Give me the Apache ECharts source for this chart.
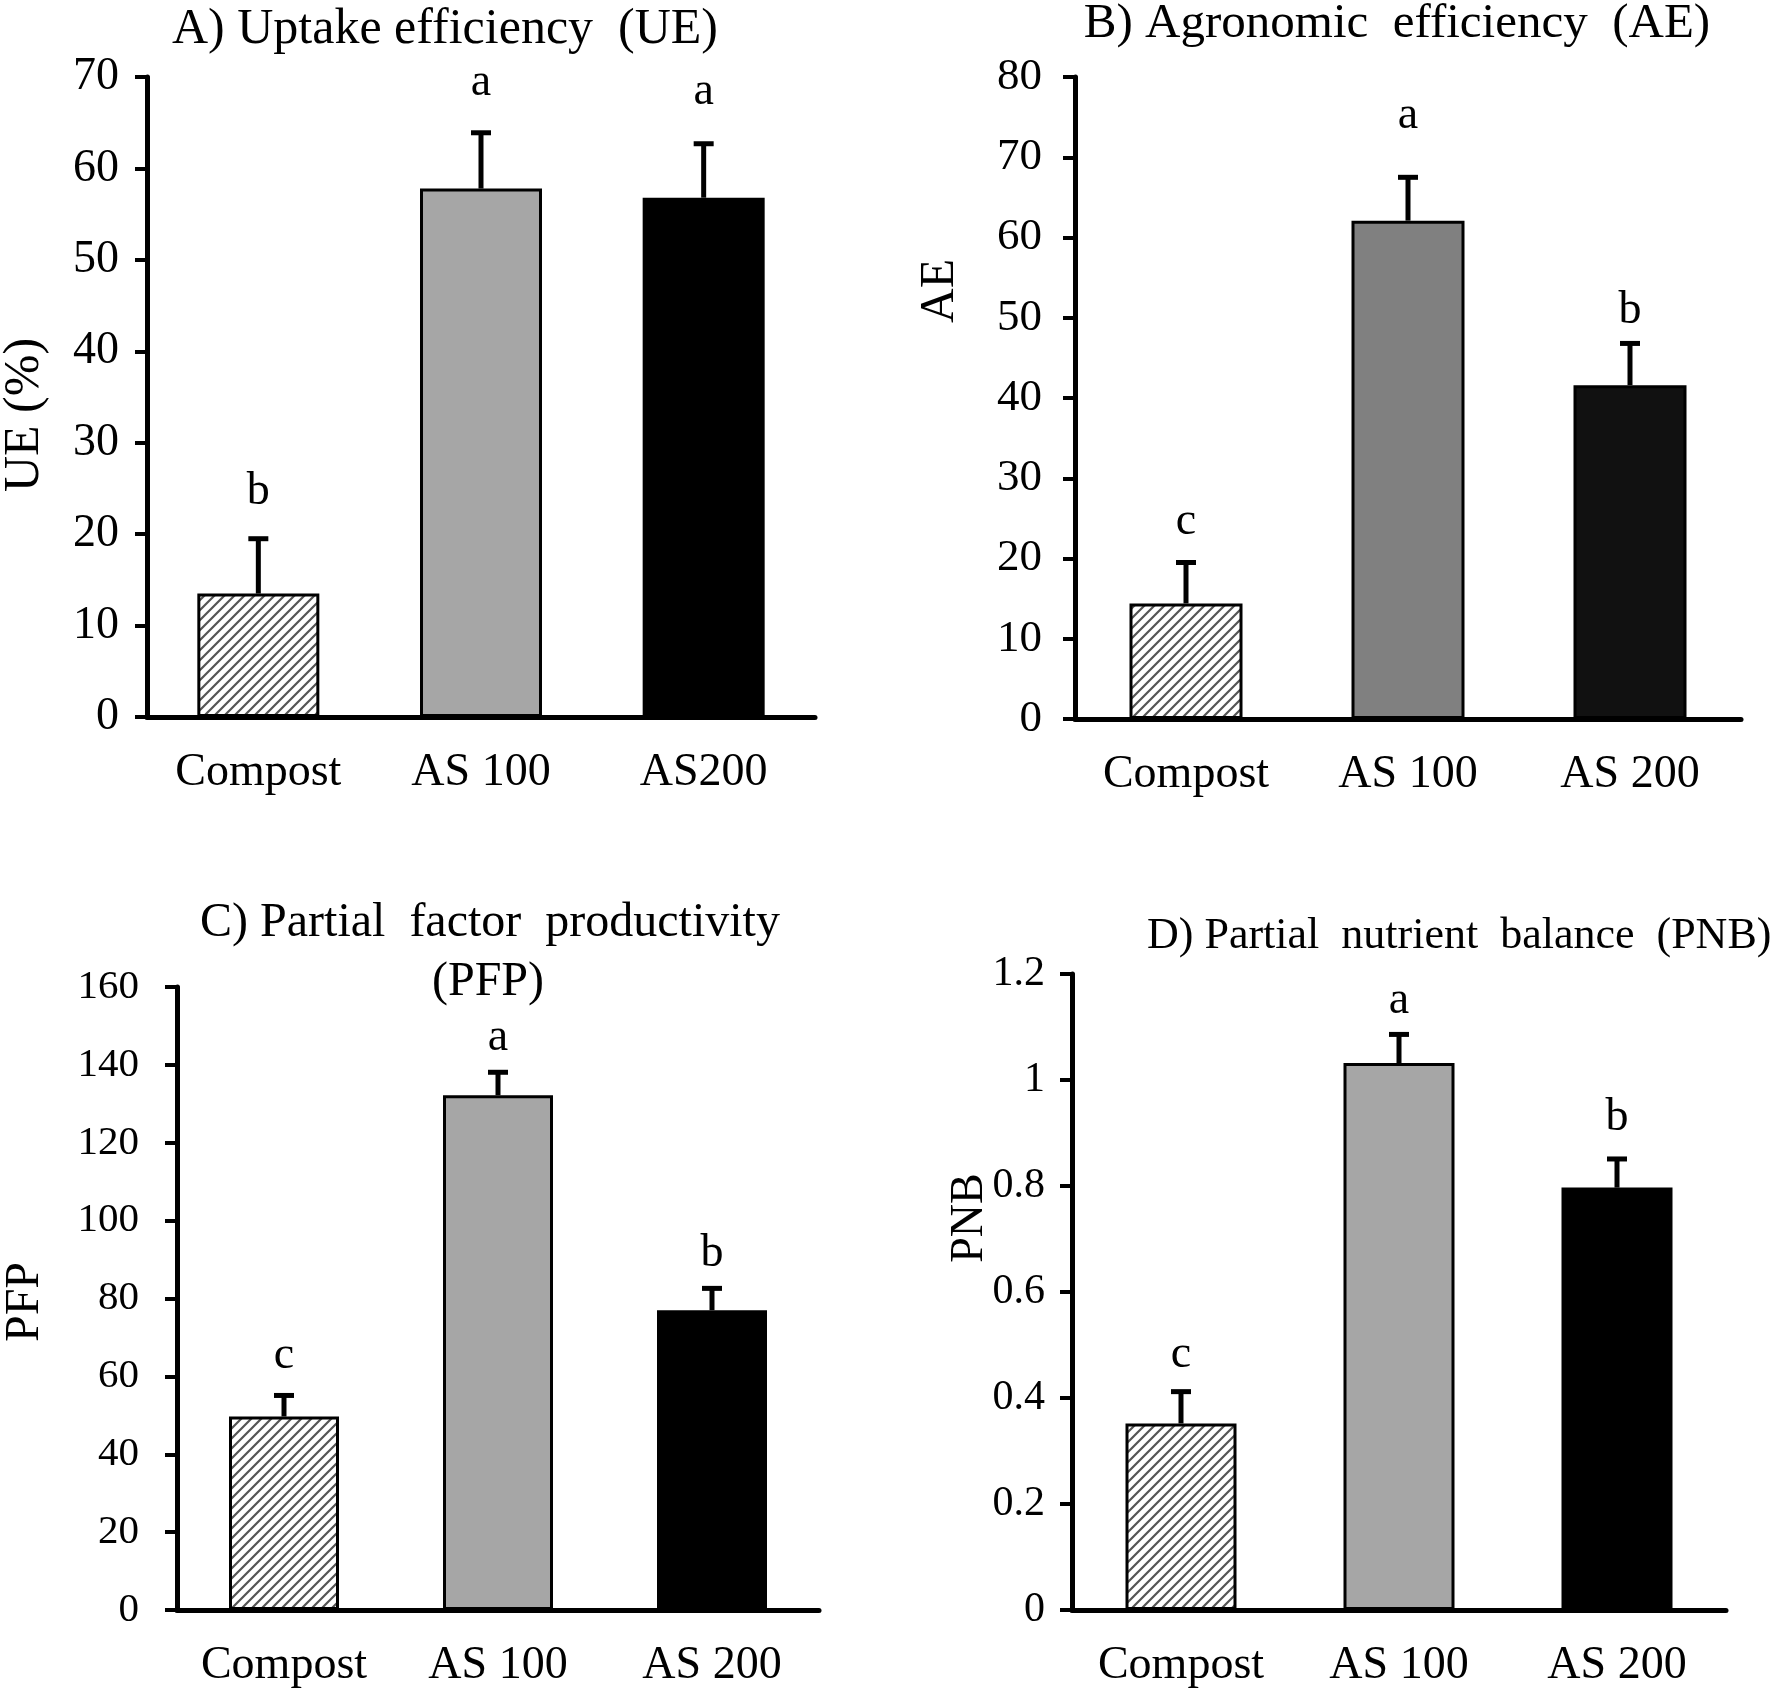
<!DOCTYPE html>
<html>
<head>
<meta charset="utf-8">
<script src="https://cdn.jsdelivr.net/npm/echarts@6/dist/echarts.min.js"></script>
<style>
html,body{margin:0;padding:0;background:#fff;}
#chart{width:1772px;height:1692px;}
</style>
</head>
<body>
<div id="chart"></div>
<script>
// ---------- data ----------
const catsA = ['Compost', 'AS 100', 'AS200'];
const catsB = ['Compost', 'AS 100', 'AS 200'];
const catsC = ['Compost', 'AS 100', 'AS 200'];
const catsD = ['Compost', 'AS 100', 'AS 200'];

const ueMean = [13.5, 57.8, 56.8];
const ueErr = [6.0, 6.1, 5.9];
const ueLetters = ['b', 'a', 'a'];
const ueLetterAt = [24.6, 69.3, 68.4];

const aeMean = [14.4, 62.1, 41.6];
const aeErr = [5.1, 5.4, 5.2];
const aeLetters = ['c', 'a', 'b'];
const aeLetterAt = [24.5, 75.1, 50.8];

const pfpMean = [49.7, 132.2, 77.0];
const pfpErr = [5.4, 5.9, 5.6];
const pfpLetters = ['c', 'a', 'b'];
const pfpLetterAt = [65.3, 146.8, 91.4];

const pnbMean = [0.352, 1.032, 0.797];
const pnbErr = [0.06, 0.054, 0.054];
const pnbLetters = ['c', 'a', 'b'];
const pnbLetterAt = [0.481, 1.149, 0.928];

const ticksA = {min: 0, max: 70, interval: 10};
const ticksB = {min: 0, max: 80, interval: 10};
const ticksC = {min: 0, max: 160, interval: 20};
const ticksD = {min: 0, max: 1.2, interval: 0.2};

// ---------- styles ----------
const FONT = 'Liberation Serif';

function hatchPattern() {
  const s = 10;
  const c = document.createElement('canvas');
  c.width = s; c.height = s;
  const g = c.getContext('2d');
  g.fillStyle = '#ffffff';
  g.fillRect(0, 0, s, s);
  g.strokeStyle = '#555555';
  g.lineWidth = 2.2;
  g.beginPath();
  g.moveTo(-2, s + 2); g.lineTo(s + 2, -2);
  g.moveTo(-2, 2); g.lineTo(2, -2);
  g.moveTo(s - 2, s + 2); g.lineTo(s + 2, s - 2);
  g.stroke();
  return {image: c, repeat: 'repeat'};
}
const hatch = hatchPattern();

const panels = [
  {cats: catsA, mean: ueMean, err: ueErr, letters: ueLetters, letterAt: ueLetterAt, ticks: ticksA,
   grid: {left: 147, top: 77, width: 668, height: 640}, barWidth: 122,
   tickFont: 46, tickMargin: 28,
   colors: [hatch, '#a6a6a6', '#000000']},
  {cats: catsB, mean: aeMean, err: aeErr, letters: aeLetters, letterAt: aeLetterAt, ticks: ticksB,
   grid: {left: 1075, top: 77, width: 666, height: 642}, barWidth: 113,
   tickFont: 45, tickMargin: 33,
   colors: [hatch, '#808080', '#111111']},
  {cats: catsC, mean: pfpMean, err: pfpErr, letters: pfpLetters, letterAt: pfpLetterAt, ticks: ticksC,
   grid: {left: 177, top: 987, width: 642, height: 623}, barWidth: 110,
   tickFont: 41, tickMargin: 38,
   colors: [hatch, '#a6a6a6', '#000000']},
  {cats: catsD, mean: pnbMean, err: pnbErr, letters: pnbLetters, letterAt: pnbLetterAt, ticks: ticksD,
   grid: {left: 1072, top: 974, width: 654, height: 636}, barWidth: 111,
   tickFont: 42, tickMargin: 27,
   colors: [hatch, '#a6a6a6', '#000000']}
];

const grid = [], xAxis = [], yAxis = [], series = [];
panels.forEach((p, i) => {
  grid.push(Object.assign({containLabel: false}, p.grid));
  xAxis.push({
    type: 'category', gridIndex: i, data: p.cats,
    axisLine: {lineStyle: {color: '#000', width: 5}},
    axisTick: {show: false},
    axisLabel: {color: '#000', fontFamily: FONT, fontSize: 46, margin: 33, interval: 0}
  });
  yAxis.push({
    type: 'value', gridIndex: i,
    min: p.ticks.min, max: p.ticks.max, interval: p.ticks.interval,
    axisLine: {show: true, lineStyle: {color: '#000', width: 5}},
    axisTick: {show: true, length: 12, lineStyle: {color: '#000', width: 4}},
    splitLine: {show: false},
    axisLabel: {color: '#000', fontFamily: FONT, fontSize: p.tickFont, margin: p.tickMargin}
  });
  series.push({
    type: 'bar', xAxisIndex: i, yAxisIndex: i, barWidth: p.barWidth,
    data: p.mean.map((v, k) => ({value: v, itemStyle: {color: p.colors[k]}})),
    itemStyle: {borderColor: '#000', borderWidth: 3},
    silent: true, animation: false, z: 2
  });
  series.push({
    type: 'custom', xAxisIndex: i, yAxisIndex: i, animation: false, silent: true, z: 3,
    data: p.mean.map((v, k) => [k, v, v + p.err[k], p.letterAt[k]]),
    renderItem: function (params, api) {
      const k = api.value(0);
      const base = api.coord([k, api.value(1)]);
      const top = api.coord([k, api.value(2)]);
      const lt = api.coord([k, api.value(3)]);
      return {
        type: 'group',
        children: [
          {type: 'line', shape: {x1: base[0], y1: base[1], x2: top[0], y2: top[1]},
           style: {stroke: '#000', lineWidth: 5}},
          {type: 'line', shape: {x1: top[0] - 10, y1: top[1], x2: top[0] + 10, y2: top[1]},
           style: {stroke: '#000', lineWidth: 5}},
          {type: 'text', x: lt[0], y: lt[1],
           style: {text: p.letters[params.dataIndex], fill: '#000', font: '46px ' + FONT,
                   textAlign: 'center', textVerticalAlign: 'middle'}}
        ]
      };
    }
  });
});

function txt(text, x, y, rot, align, size) {
  return {type: 'text', x: x, y: y, rotation: rot || 0, silent: true,
          style: {text: text, fill: '#000', font: (size || 46) + 'px ' + FONT,
                  textAlign: align || 'center', textVerticalAlign: 'middle'}};
}

const graphic = [
  txt('A) Uptake efficiency  (UE)', 445, 30, 0, 'center', 50),
  txt('B) Agronomic  efficiency  (AE)', 1397, 24, 0, 'center', 49),
  txt('C) Partial  factor  productivity', 490, 923, 0, 'center', 48),
  txt('(PFP)', 488, 982, 0, 'center', 48),
  txt('D) Partial  nutrient  balance  (PNB)', 1147, 936, 0, 'left', 44),
  txt('UE (%)', 25, 415, Math.PI / 2, 'center', 50),
  txt('AE', 940, 291, Math.PI / 2, 'center', 48),
  txt('PFP', 25, 1302, Math.PI / 2, 'center', 48),
  txt('PNB', 970, 1218, Math.PI / 2, 'center', 46)
];

const chart = echarts.init(document.getElementById('chart'), null, {renderer: 'canvas'});
chart.setOption({
  backgroundColor: '#ffffff',
  animation: false,
  grid: grid, xAxis: xAxis, yAxis: yAxis, series: series, graphic: graphic
});
</script>
</body>
</html>
